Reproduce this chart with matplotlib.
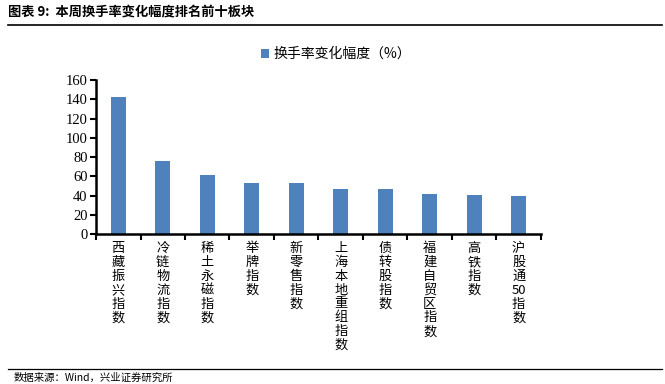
import matplotlib
matplotlib.use("Agg")
import matplotlib.pyplot as plt
from matplotlib.lines import Line2D

plt.rcParams['font.family'] = ['Noto Sans CJK SC', 'DejaVu Sans']
plt.rcParams['axes.unicode_minus'] = False

# 数据
categories = ["西藏振兴指数", "冷链物流指数", "稀土永磁指数", "举牌指数", "新零售指数",
              "上海本地重组指数", "债转股指数", "福建自贸区指数", "高铁指数", "沪股通50指数"]
values = [142, 76, 61, 53, 53, 47, 47, 42, 41, 40]
y_ticks = [0, 20, 40, 60, 80, 100, 120, 140, 160]

bar_color = "#4F81BD"


def vertical_label(name):
    # 每个字一行，数字连在一起
    parts = []
    buf = ""
    for ch in name:
        if ch.isdigit():
            buf += ch
        else:
            if buf:
                parts.append(buf)
                buf = ""
            parts.append(ch)
    if buf:
        parts.append(buf)
    return "\n".join(parts)


fig = plt.figure(figsize=(6.65, 3.84), dpi=100)
ax = fig.add_axes([0.1444, 0.3906, 0.669, 0.401])

x = list(range(len(categories)))
ax.bar(x, values, width=0.33, color=bar_color, label="换手率变化幅度（%）", zorder=2)

ax.set_xlim(-0.5, len(categories) - 0.5)
ax.set_ylim(0, 160)
ax.set_yticks(y_ticks)
ax.set_yticklabels([str(v) for v in y_ticks], fontfamily="Liberation Serif", fontsize=10.5)

ax.set_xticks(x)
ax.set_xticklabels([vertical_label(c) for c in categories], fontsize=9.5, linespacing=1.08,
                   va="top")
ax.set_xticks([i - 0.5 for i in range(len(categories) + 1)], minor=True)
ax.tick_params(axis="x", which="major", length=0, pad=6)
ax.tick_params(axis="x", which="minor", length=4, width=1.5, direction="out")
ax.tick_params(axis="y", length=4, width=1.5, direction="out", pad=2)

for s in ["top", "right"]:
    ax.spines[s].set_visible(False)
ax.spines["left"].set_linewidth(1.8)
ax.spines["bottom"].set_linewidth(1.8)

ax.legend(loc="upper center", frameon=False, fontsize=10, handlelength=0.6,
          handleheight=0.6, handletextpad=0.3)
leg = ax.get_legend()
leg.set_bbox_to_anchor((0.505, 0.91), transform=fig.transFigure)

# 标题和来源
fig.text(0.012, 0.968, "图表 9:  本周换手率变化幅度排名前十板块", fontsize=9.5, fontweight="bold",
         va="center", ha="left")
fig.add_artist(Line2D([0.012, 0.995], [0.935, 0.935], color="black", linewidth=1.2))
fig.add_artist(Line2D([0.012, 0.995], [0.039, 0.039], color="black", linewidth=0.9))
fig.text(0.02, 0.015, "数据来源：Wind，兴业证券研究所", fontsize=7.5, va="center", ha="left")

fig.savefig("out.png", dpi=100)
